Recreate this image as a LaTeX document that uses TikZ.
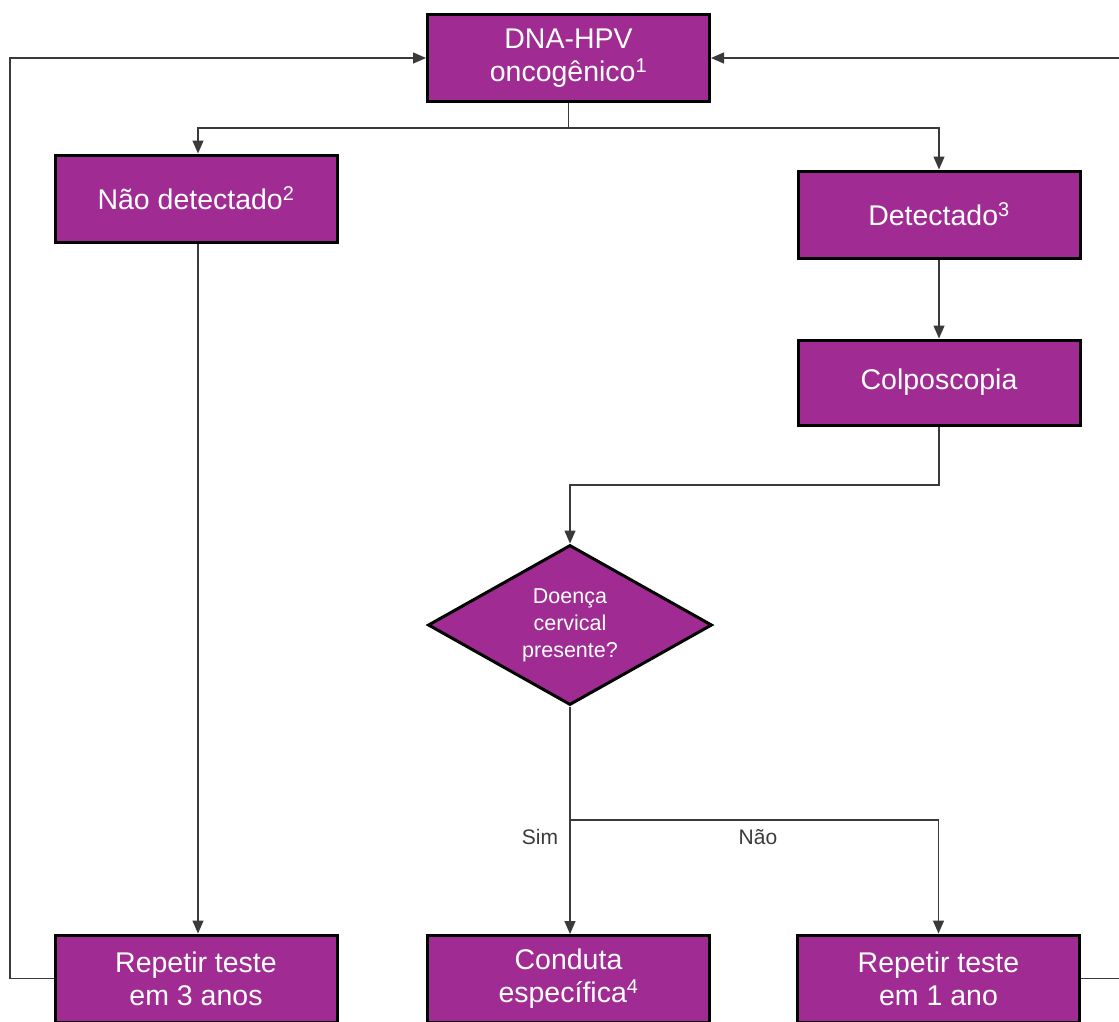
\documentclass[tikz,border=0pt]{standalone}
\usepackage{fontspec}
\setmainfont{Liberation Sans}
\usetikzlibrary{shapes.geometric,arrows.meta}
\definecolor{boxpurple}{HTML}{A02B93}
\definecolor{linegray}{HTML}{3A3A3A}
\begin{document}
\begin{tikzpicture}[x=1pt,y=-1pt,
  flowbox/.style={draw=black,line width=3pt,fill=boxpurple,text=white,
    minimum width=282pt,minimum height=87pt,inner sep=0pt,align=center,
    font=\fontsize{28.5}{33}\selectfont},
  decbox/.style={draw=black,line width=3pt,fill=boxpurple,text=white,diamond,
    aspect=1.775,minimum width=284pt,minimum height=160pt,inner sep=0pt,align=center,
    font=\fontsize{21.5}{27}\selectfont},
  conn/.style={draw=linegray,line width=1.4pt},
  arr/.style={conn,-{Triangle[length=13pt,width=11pt]}},
  lbl/.style={text=linegray,font=\fontsize{21}{25}\selectfont,inner sep=0pt}]
\useasboundingbox (0,0) rectangle (1119,1021);
\node[flowbox] (top) at (568.5,58) {DNA-HPV\\oncogênico\textsuperscript{1}};
\node[flowbox] (nd) at (196,198.5) {Não detectado\textsuperscript{2}};
\node[flowbox] (det) at (939,214.5) {Detectado\textsuperscript{3}};
\node[flowbox,minimum height=85pt] (col) at (939,382.5) {Colposcopia};
\node[decbox] (dia) at (570,625) {Doença\\cervical\\presente?};
\node[flowbox] (b1) at (196,978.5) {Repetir teste\\em 3 anos};
\node[flowbox] (b2) at (568.5,979) {Conduta\\específica\textsuperscript{4}};
\node[flowbox] (b3) at (938.5,978.5) {Repetir teste\\em 1 ano};
\coordinate (j1) at (568.5,128);
\coordinate (j2) at (939,485);
\coordinate (j3) at (570,820);
\coordinate (lft) at (10,978.5);
\coordinate (rgt) at (1135,978.5);
\draw[conn] (top.south) -- (j1);
\draw[arr] (j1) -| ([xshift=2pt]nd.north);
\draw[arr] (j1) -| (det.north);
\draw[arr] (det.south) -- (col.north);
\draw[arr] (col.south) -- (j2) -| (dia.north);
\draw[arr] (dia.south) -- (dia.south |- b2.north);
\draw[arr] (j3) -| (b3.north);
\draw[arr] ([xshift=2pt]nd.south) -- ([xshift=2pt]b1.north);
\draw[arr] (b1.west) -- (lft) |- (top.west);
\draw[arr] (b3.east) -- (rgt) |- (top.east);
\node[lbl] (sim) at (540,837) {Sim};
\node[lbl] (nao) at (758,837) {Não};
\end{tikzpicture}
\end{document}
